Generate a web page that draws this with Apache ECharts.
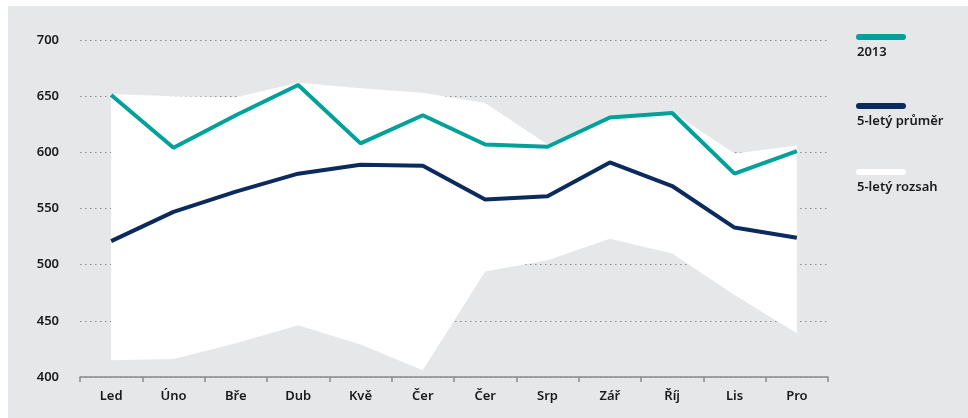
<!DOCTYPE html>
<html>
<head>
<meta charset="utf-8">
<script src="https://cdn.jsdelivr.net/npm/echarts@6/dist/echarts.min.js"></script>
<style>
  html, body { margin: 0; padding: 0; background: #fff; }
  #chart { position: absolute; left: 8px; top: 6px; width: 960px; height: 412px; }
</style>
</head>
<body>
<div id="chart"></div>
<script>
  // měsíce
  var months = ['Led', 'Úno', 'Bře', 'Dub', 'Kvě', 'Čer', 'Čer', 'Srp', 'Zář', 'Říj', 'Lis', 'Pro']
  var year2013 = [651, 604, 633, 660, 608, 633, 607, 605, 631, 635, 581, 601]
  var avg5 = [521, 547, 565, 581, 589, 588, 558, 561, 591, 570, 533, 524]
  var rangeLow = [415, 416, 430, 446, 429, 406, 494, 504, 523, 510, 473, 439]
  var rangeHigh = [652, 650, 649, 662, 657, 653, 644, 607, 632, 636, 599, 606]
  var yTicks = [400, 450, 500, 550, 600, 650, 700]

  var teal = '#00a19a'
  var navy = '#0b2a5e'
  var fontFam = '"Noto Sans", "Open Sans", sans-serif'

  // rozsah = horní - dolní (stack)
  var rangeBand = rangeHigh.map(function (v, i) { return v - rangeLow[i] })

  var chart = echarts.init(document.getElementById('chart'))

  // legenda vlastní – text pod čárou
  var legendItems = [
    { name: '2013', color: teal, y: 31 },
    { name: '5-letý průměr', color: navy, y: 100 },
    { name: '5-letý rozsah', color: '#ffffff', y: 166 }
  ]
  var graphics = []
  legendItems.forEach(function (it) {
    graphics.push({
      type: 'line',
      shape: { x1: 851, y1: it.y, x2: 895, y2: it.y },
      style: { stroke: it.color, lineWidth: 6, lineCap: 'round' }
    })
    graphics.push({
      type: 'text',
      left: 849,
      top: it.y + 9,
      style: { text: it.name, fill: '#1a1a1a', font: '600 13px ' + fontFam }
    })
  })

  chart.setOption({
    backgroundColor: '#e6e7e9',
    animation: false,
    grid: { left: 72, right: 140, top: 34, bottom: 41 },
    xAxis: {
      type: 'category',
      data: months,
      boundaryGap: true,
      axisLine: { lineStyle: { color: '#8a8a8a', width: 1.5 } },
      axisTick: { show: true, length: 5, lineStyle: { color: '#8a8a8a', width: 1.5 } },
      axisLabel: { color: '#1a1a1a', fontSize: 13, fontWeight: 600, fontFamily: fontFam, margin: 13 }
    },
    yAxis: {
      type: 'value',
      min: yTicks[0],
      max: yTicks[yTicks.length - 1],
      interval: 50,
      axisLine: { show: false },
      axisTick: { show: false },
      axisLabel: { color: '#1a1a1a', fontSize: 13, fontWeight: 600, fontFamily: fontFam, margin: 21 },
      splitLine: { lineStyle: { color: '#8c8c8c', type: [1.5, 3.5], width: 1 } }
    },
    graphic: graphics,
    series: [
      {
        name: 'base',
        type: 'line',
        stack: 'range',
        data: rangeLow,
        symbol: 'none',
        lineStyle: { opacity: 0 },
        silent: true
      },
      {
        name: '5-letý rozsah',
        type: 'line',
        stack: 'range',
        data: rangeBand,
        symbol: 'none',
        lineStyle: { opacity: 0 },
        areaStyle: { color: '#ffffff', opacity: 1 },
        silent: true
      },
      {
        name: '5-letý průměr',
        type: 'line',
        data: avg5,
        symbol: 'none',
        lineStyle: { color: navy, width: 4 }
      },
      {
        name: '2013',
        type: 'line',
        data: year2013,
        symbol: 'none',
        lineStyle: { color: teal, width: 4 }
      }
    ]
  })
</script>
</body>
</html>
